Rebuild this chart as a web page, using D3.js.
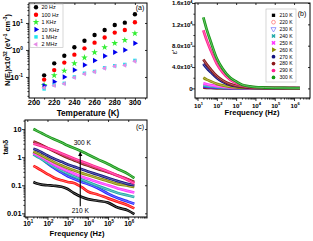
<!DOCTYPE html>
<html>
<head>
<meta charset="utf-8">
<script src="https://d3js.org/d3.v7.min.js"></script>
<style>
  body { margin: 0; background: #fff; }
  svg { display: block; font-family: "Liberation Sans", Arial, sans-serif; }
</style>
</head>
<body>
<script>
// ---------- data ----------
const temps = [210, 220, 230, 240, 250, 260, 270, 280, 290, 300];
const tempColors = ["#000000", "#ff1010", "#2828ff", "#1fa8a8", "#ff33ff",
                    "#8c8c00", "#12127f", "#8b1818", "#ff1f8f", "#149a14"];

// (a) N(Ef) vs temperature at six frequencies
const nefLabels = ["20 Hz", "100 Hz", "1 KHz", "10 KHz", "1 MHz", "2 MHz"];
const nefColors = ["#000000", "#ff0000", "#33ee33", "#0000ee", "#22e6ee", "#e58ae5"];
const nef20Hz  = [0.115, 0.32, 0.61, 1.26, 2.2, 3.6, 5.5, 8.4, 10.3, 21];
const nef100Hz = [0.08, 0.18, 0.34, 0.67, 1.15, 1.87, 2.9, 4.4, 5.5, 10.6];
const nef1kHz  = [0.05, 0.115, 0.17, 0.32, 0.52, 0.82, 1.26, 1.78, 2.3, 4.1];
const nef10kHz = [0.047, 0.067, 0.10, 0.18, 0.28, 0.41, 0.60, 0.82, 1.0, 1.78];
const nef1MHz  = [0.036, 0.05, 0.058, 0.10, 0.137, 0.16, 0.22, 0.26, 0.29, 0.41];
const nef2MHz  = [0.04, 0.048, 0.056, 0.095, 0.13, 0.155, 0.21, 0.25, 0.27, 0.38];

// (b) and (c) share the frequency points
const freqs = [20, 30, 50, 100, 200, 500, 1e3, 2e3, 5e3, 1e4, 3e4, 1e5, 3e5, 1e6, 2e6];

const eps210 = [120, 95, 75, 55, 40, 28, 22, 18, 15, 13, 11, 10, 9, 8, 8];
const eps220 = [250, 200, 150, 100, 70, 45, 32, 25, 20, 17, 15, 13, 12, 11, 10];
const eps230 = [380, 300, 230, 160, 110, 65, 45, 34, 26, 22, 19, 17, 15, 14, 13];
const eps240 = [550, 450, 350, 240, 160, 95, 65, 48, 36, 30, 25, 22, 20, 18, 17];
const eps250 = [940, 780, 600, 400, 270, 150, 100, 70, 50, 40, 33, 28, 25, 22, 20];
const eps260 = [2000, 1650, 1300, 850, 560, 300, 190, 130, 85, 65, 50, 42, 36, 32, 30];
const eps270 = [4600, 3800, 3000, 1950, 1250, 650, 400, 260, 150, 110, 80, 60, 50, 40, 35];
const eps280 = [5400, 4500, 3500, 2300, 1500, 800, 500, 320, 180, 130, 90, 70, 55, 45, 40];
const eps290 = [10900, 9000, 7000, 4600, 3000, 1600, 1000, 600, 300, 190, 120, 90, 70, 55, 45];
const eps300 = [13300, 11000, 8600, 5600, 3700, 2000, 1300, 700, 380, 230, 160, 110, 80, 60, 50];

const tan210 = [0.13, 0.115, 0.105, 0.1, 0.096, 0.088, 0.073, 0.053, 0.038, 0.032, 0.028, 0.024, 0.016, 0.0125, 0.0093];
const tan220 = [0.49, 0.42, 0.34, 0.25, 0.19, 0.15, 0.13, 0.12, 0.085, 0.06, 0.047, 0.034, 0.026, 0.019, 0.015];
const tan230 = [1.5, 1.2, 0.9, 0.6, 0.42, 0.28, 0.21, 0.17, 0.13, 0.11, 0.08, 0.05, 0.035, 0.026, 0.022];
const tan240 = [1.25, 1.05, 0.85, 0.62, 0.46, 0.33, 0.26, 0.21, 0.16, 0.13, 0.095, 0.07, 0.053, 0.043, 0.038];
const tan250 = [1.4, 1.2, 1.0, 0.75, 0.56, 0.4, 0.32, 0.26, 0.2, 0.17, 0.13, 0.1, 0.077, 0.062, 0.055];
const tan260 = [1.6, 1.4, 1.15, 0.88, 0.68, 0.5, 0.41, 0.34, 0.27, 0.23, 0.18, 0.14, 0.11, 0.095, 0.087];
const tan270 = [2.0, 1.8, 1.5, 1.15, 0.9, 0.68, 0.55, 0.46, 0.37, 0.31, 0.24, 0.18, 0.14, 0.11, 0.10];
const tan280 = [3.6, 3.2, 2.7, 2.1, 1.65, 1.2, 0.95, 0.78, 0.6, 0.5, 0.38, 0.29, 0.22, 0.16, 0.13];
const tan290 = [3.0, 2.8, 2.5, 2.1, 1.75, 1.35, 1.1, 0.9, 0.7, 0.58, 0.43, 0.31, 0.22, 0.15, 0.115];
const tan300 = [10, 8.6, 7.2, 5.6, 4.4, 3.3, 2.6, 2.1, 1.6, 1.25, 0.85, 0.57, 0.38, 0.25, 0.18];

const nefSeries = [nef20Hz, nef100Hz, nef1kHz, nef10kHz, nef1MHz, nef2MHz];
const epsSeries = [eps210, eps220, eps230, eps240, eps250, eps260, eps270, eps280, eps290, eps300];
const tanSeries = [tan210, tan220, tan230, tan240, tan250, tan260, tan270, tan280, tan290, tan300];

// ---------- helpers ----------
const svg = d3.select("body").append("svg").attr("width", 313).attr("height", 241);

// text with super/subscripts: parts = [[string, 0 normal | 1 sup | -1 sub], ...]
function rich(t, parts, fs) {
  let shift = 0;
  parts.forEach(([s, k]) => {
    const target = k === 1 ? -fs * 0.4 : k === -1 ? fs * 0.25 : 0;
    t.append("tspan").attr("dy", target - shift)
      .attr("font-size", k ? fs * 0.65 : fs).text(s);
    shift = target;
  });
}

function logMinor(domain) {
  const out = [];
  for (let e = -4; e <= 8; e++)
    for (let m = 2; m <= 9; m++) {
      const v = m * Math.pow(10, e);
      if (v > domain[0] && v < domain[1]) out.push(v);
    }
  return out;
}

// frame + ticks (outward on left/bottom, inward on top/right)
function frame(g, x, y, xMaj, xMin, yMaj, yMin) {
  const [x0, x1] = x.range(), [y0, y1] = y.range();
  const tk = (axis, tr, vals, size) => g.append("g").attr("transform", tr)
    .call(axis.tickValues(vals).tickSize(size).tickFormat(""))
    .call(s => s.select(".domain").remove())
    .selectAll("line").attr("stroke", "#000").attr("stroke-width", 0.8);
  tk(d3.axisBottom(x), `translate(0,${y0})`, xMaj, 3);
  tk(d3.axisBottom(x), `translate(0,${y0})`, xMin, 1.6);
  tk(d3.axisTop(x), `translate(0,${y1})`, xMaj, -2);
  tk(d3.axisLeft(y), `translate(${x0},0)`, yMaj, 3);
  tk(d3.axisLeft(y), `translate(${x0},0)`, yMin, 1.6);
  tk(d3.axisRight(y), `translate(${x1},0)`, yMaj, -2);
  g.append("rect").attr("x", x0).attr("y", y1)
    .attr("width", x1 - x0).attr("height", y0 - y1)
    .attr("fill", "none").attr("stroke", "#000").attr("stroke-width", 1);
}

function tint(c, k) { return d3.interpolateRgb(c, "#fff")(k); }

// thick "chain of open markers" look
function drawCurves(g, x, y, series, colors) {
  const line = d3.line().x(d => x(d[0])).y(d => y(d[1])).curve(d3.curveMonotoneX);
  series.forEach((vals, i) => {
    const pts = freqs.map((f, j) => [f, vals[j]]);
    g.append("path").attr("d", line(pts)).attr("fill", "none")
      .attr("stroke", colors[i]).attr("stroke-width", 2.7).attr("stroke-linejoin", "round");
    g.append("path").attr("d", line(pts)).attr("fill", "none")
      .attr("stroke", tint(colors[i], 0.45)).attr("stroke-width", 0.8);
  });
}

const bold = s => s.attr("font-weight", "bold");

// ---------- panel (a) ----------
const gA = svg.append("g");
const xA = d3.scaleLinear([195, 312], [29, 147]);
const yA = d3.scaleLog([0.0166, 55], [98, 3]);

const symbolTypes = [d3.symbolCircle, d3.symbolCircle, d3.symbolStar,
                     d3.symbolTriangle, d3.symbolSquare, d3.symbolTriangle];
const symbolRot = [0, 0, 0, 90, 0, -90];
const symbolSize = [15, 15, 14, 13, 12, 10];
const sym = i => d3.symbol().type(symbolTypes[i]).size(symbolSize[i])();

nefSeries.forEach((vals, i) => {
  gA.append("g").selectAll("path").data(vals).join("path")
    .attr("d", sym(i))
    .attr("transform", (v, j) => `translate(${xA(temps[j])},${yA(v)}) rotate(${symbolRot[i]})`)
    .attr("fill", nefColors[i]);
});
frame(gA, xA, yA, d3.range(200, 301, 20), d3.range(210, 311, 20),
      [0.1, 1, 10], logMinor(yA.domain()));

gA.append("g").selectAll("text").data(d3.range(200, 301, 20)).join("text")
  .attr("x", d => xA(d)).attr("y", 105).attr("text-anchor", "middle")
  .attr("font-size", 7.5).call(bold).text(d => d);
gA.append("g").selectAll("text").data([-1, 0, 1]).join("text")
  .attr("x", 23).attr("y", d => yA(Math.pow(10, d)) + 2.6).attr("text-anchor", "end")
  .call(bold).each(function (d) { rich(d3.select(this), [["10", 0], [String(d), 1]], 7.5); });

gA.append("text").attr("x", 88).attr("y", 115.5).attr("text-anchor", "middle")
  .attr("font-size", 8.2).call(bold).text("Temperature (K)");
rich(gA.append("text").attr("transform", "translate(10,50) rotate(-90)")
  .attr("text-anchor", "middle").call(bold),
  [["N(E", 0], ["f", -1], [")x10", 0], ["32", 1], [" (eV", 0], ["-1", 1],
   [" cm", 0], ["-3", 1], [")", 0]], 7.4);
gA.append("text").attr("x", 140).attr("y", 9.5).attr("text-anchor", "middle")
  .attr("font-size", 7).text("(a)");

// legend (a)
const legA = gA.append("g");
legA.append("rect").attr("x", 30).attr("y", 4).attr("width", 33).attr("height", 43.5)
  .attr("fill", "#fff").attr("stroke", "#bbb").attr("stroke-width", 0.6);
nefLabels.forEach((lab, i) => {
  const yy = 7.3 + i * 7.4;
  legA.append("path").attr("d", sym(i))
    .attr("transform", `translate(36,${yy}) rotate(${symbolRot[i]})`).attr("fill", nefColors[i]);
  legA.append("text").attr("x", 41.5).attr("y", yy + 2).attr("font-size", 5.4).text(lab);
});

// ---------- panel (b) ----------
const gB = svg.append("g");
const xB = d3.scaleLog([7.4, 6.7e6], [195, 310]);
const yB = d3.scaleLinear([-1800, 16000], [98, 3]);
const decades = [1e1, 1e2, 1e3, 1e4, 1e5, 1e6];

drawCurves(gB, xB, yB, epsSeries, tempColors);
frame(gB, xB, yB, decades, logMinor(xB.domain()),
      [0, 4000, 8000, 12000, 16000], [2000, 6000, 10000, 14000]);

gB.append("g").selectAll("text").data(decades).join("text")
  .attr("x", d => xB(d) + 1).attr("y", 107.5).attr("text-anchor", "middle")
  .call(bold).each(function (d) { rich(d3.select(this), [["10", 0], [String(Math.log10(d)), 1]], 6.2); });
const yBLabels = [["0", ""], ["4.0x10", "3"], ["8.0x10", "3"], ["1.2x10", "4"], ["1.6x10", "4"]];
gB.append("g").selectAll("text").data([0, 4000, 8000, 12000, 16000]).join("text")
  .attr("x", 192.5).attr("y", d => yB(d) + 2.2).attr("text-anchor", "end")
  .call(bold).each(function (d, i) {
    const [a, b] = yBLabels[i];
    rich(d3.select(this), b ? [[a, 0], [b, 1]] : [[a, 0]], 6);
  });
gB.append("text").attr("x", 252).attr("y", 114.5).attr("text-anchor", "middle")
  .attr("font-size", 7.6).call(bold).text("Frequency (Hz)");
gB.append("text").attr("transform", "translate(177,52) rotate(-90)")
  .attr("text-anchor", "middle").attr("font-size", 7).text("ε'");
gB.append("text").attr("x", 302).attr("y", 16).attr("text-anchor", "middle")
  .attr("font-size", 7).text("(b)");

// legend (b)
const legB = gB.append("g");
legB.append("rect").attr("x", 266).attr("y", 9).attr("width", 30).attr("height", 73)
  .attr("fill", "#fff").attr("stroke", "#bbb").attr("stroke-width", 0.6);
const legBSym = [d3.symbolSquare, d3.symbolCircle, d3.symbolTriangle, d3.symbolCross,
                 d3.symbolCross, d3.symbolTriangle, d3.symbolCircle, d3.symbolCircle,
                 d3.symbolCircle, d3.symbolCircle];
const legBRot = [0, 0, 180, 45, 45, 90, 0, 0, 0, 0];
const legBOpen = [false, true, true, false, false, false, false, false, false, false];
temps.forEach((t, i) => {
  const yy = 15.3 + i * 6.9;
  legB.append("path").attr("d", d3.symbol().type(legBSym[i]).size(11)())
    .attr("transform", `translate(273.5,${yy}) rotate(${legBRot[i]})`)
    .attr("fill", legBOpen[i] ? "none" : tempColors[i])
    .attr("stroke", legBOpen[i] ? tint(tempColors[i], 0.35) : "none").attr("stroke-width", 0.7);
  legB.append("text").attr("x", 279.5).attr("y", yy + 1.8).attr("font-size", 5).text(t + " K");
});

// ---------- panel (c) ----------
const gC = svg.append("g");
const xC = d3.scaleLog([7.7, 8.5e6], [25, 147]);
const yC = d3.scaleLog([0.0074, 21], [217, 120]);

drawCurves(gC, xC, yC, tanSeries, tempColors);
frame(gC, xC, yC, decades, logMinor(xC.domain()), [0.01, 0.1, 1, 10], logMinor(yC.domain()));

gC.append("g").selectAll("text").data(decades).join("text")
  .attr("x", d => xC(d) + 1).attr("y", 226).attr("text-anchor", "middle")
  .call(bold).each(function (d) { rich(d3.select(this), [["10", 0], [String(Math.log10(d)), 1]], 6.8); });
gC.append("g").selectAll("text").data([0.01, 0.1, 1, 10]).join("text")
  .attr("x", 21.5).attr("y", d => yC(d) + 2.6).attr("text-anchor", "end")
  .attr("font-size", 7.4).call(bold).text(d => d);
gC.append("text").attr("x", 77).attr("y", 236).attr("text-anchor", "middle")
  .attr("font-size", 7.6).call(bold).text("Frequency (Hz)");
gC.append("text").attr("transform", "translate(8,147) rotate(-90)")
  .attr("text-anchor", "middle").attr("font-size", 7).call(bold).text("tanδ");
gC.append("text").attr("x", 140).attr("y", 129).attr("text-anchor", "middle")
  .attr("font-size", 7).text("(c)");

// arrow 210 K -> 300 K
svg.append("defs").append("marker").attr("id", "ah")
  .attr("viewBox", "0 0 10 10").attr("refX", 9).attr("refY", 5)
  .attr("markerWidth", 4).attr("markerHeight", 5).attr("orient", "auto")
  .append("path").attr("d", "M0,0L10,5L0,10Z").attr("fill", "#000");
gC.append("line").attr("x1", xC(4200)).attr("x2", xC(4200))
  .attr("y1", yC(0.018)).attr("y2", yC(1.5))
  .attr("stroke", "#000").attr("stroke-width", 1.1).attr("marker-end", "url(#ah)");
gC.append("text").attr("x", xC(4200) + 2).attr("y", yC(3.3) + 2.5).attr("text-anchor", "middle")
  .attr("font-size", 6.6).text("300 K");
gC.append("text").attr("x", xC(4200)).attr("y", yC(0.0128) + 2.5).attr("text-anchor", "middle")
  .attr("font-size", 6.6).text("210 K");
</script>
</body>
</html>
